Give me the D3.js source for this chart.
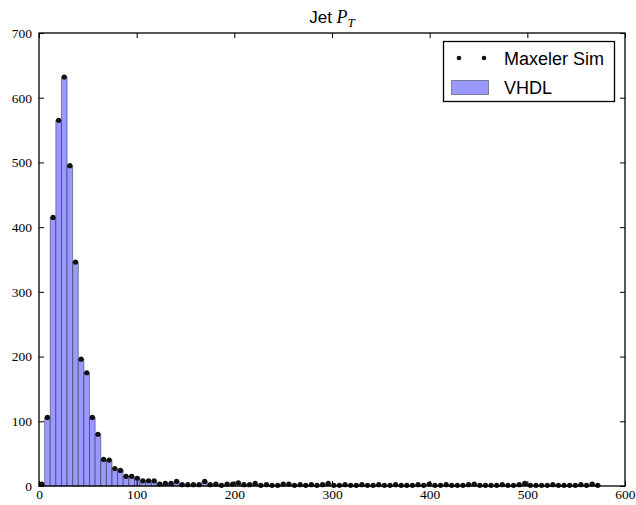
<!DOCTYPE html>
<html>
<head>
<meta charset="utf-8">
<script src="https://cdn.jsdelivr.net/npm/d3@7"></script>
<style>
  body { margin: 0; background: #fff; }
  svg { display: block; }
</style>
</head>
<body>
<svg id="canvas" width="636" height="505"></svg>
<script>
// histogram of jet pT, 100 bins starting at 0
const binStart = 0;
const binWidth = 5.75;

const vhdlCounts = [
  3, 106, 415, 565, 632, 495, 346, 196, 175, 106,
  80, 41, 40, 27, 24, 15, 15, 12, 8, 8,
  8, 3, 4, 4, 7, 2, 2, 2, 2, 7,
  2, 3, 1, 3, 3, 5, 2, 2, 4, 1,
  2, 1, 1, 3, 3, 1, 2, 1, 2, 1,
  2, 4, 1, 1, 2, 1, 1, 2, 1, 1,
  2, 1, 1, 2, 1, 1, 1, 2, 1, 3,
  1, 1, 2, 1, 1, 1, 2, 3, 1, 1,
  1, 1, 2, 1, 1, 2, 4, 1, 1, 1,
  1, 2, 1, 1, 1, 1, 2, 1, 3, 1
];
const maxelerCounts = vhdlCounts.slice();

const xTicks = [0, 100, 200, 300, 400, 500, 600];
const yTicks = [0, 100, 200, 300, 400, 500, 600, 700];

const margin = { left: 39, right: 636 - 625, top: 33, bottom: 505 - 486 };
const width = 636, height = 505;

const svg = d3.select("#canvas");

const x = d3.scaleLinear().domain([0, 600]).range([margin.left, width - margin.right]);
const y = d3.scaleLinear().domain([0, 700]).range([height - margin.bottom, margin.top]);

const bins = vhdlCounts.map((c, i) => ({
  x0: binStart + i * binWidth,
  x1: binStart + (i + 1) * binWidth,
  count: c,
  sim: maxelerCounts[i]
}));

// bars
svg.append("g")
  .selectAll("rect")
  .data(bins)
  .enter()
  .append("rect")
  .attr("x", (d) => x(d.x0))
  .attr("width", (d) => x(d.x1) - x(d.x0))
  .attr("y", (d) => y(d.count))
  .attr("height", (d) => y(0) - y(d.count))
  .attr("fill", "rgb(153,153,255)")
  .attr("stroke", "rgba(0,0,0,0.4)")
  .attr("stroke-width", 1);

// sim points
svg.append("g")
  .selectAll("circle")
  .data(bins)
  .enter()
  .append("circle")
  .attr("cx", (d) => x((d.x0 + d.x1) / 2))
  .attr("cy", (d) => y(d.sim))
  .attr("r", 2.6)
  .attr("fill", "#111");

// frame
svg.append("rect")
  .attr("x", x(0))
  .attr("y", y(700))
  .attr("width", x(600) - x(0))
  .attr("height", y(0) - y(700))
  .attr("fill", "none")
  .attr("stroke", "#000")
  .attr("stroke-width", 1.3);

// axes, ticks pointing inwards on every side
const tickFont = "'Liberation Serif', serif";
const axisBottom = d3.axisBottom(x).tickValues(xTicks).tickSizeInner(-5).tickSizeOuter(0).tickPadding(3);
const axisTop = d3.axisTop(x).tickValues(xTicks).tickSizeInner(-5).tickSizeOuter(0).tickFormat("");
const axisLeft = d3.axisLeft(y).tickValues(yTicks).tickSizeInner(-5).tickSizeOuter(0).tickPadding(7);
const axisRight = d3.axisRight(y).tickValues(yTicks).tickSizeInner(-5).tickSizeOuter(0).tickFormat("");

const gb = svg.append("g").attr("transform", `translate(0,${y(0)})`).call(axisBottom);
const gt = svg.append("g").attr("transform", `translate(0,${y(700)})`).call(axisTop);
const gl = svg.append("g").attr("transform", `translate(${x(0)},0)`).call(axisLeft);
const gr = svg.append("g").attr("transform", `translate(${x(600)},0)`).call(axisRight);

[gb, gt, gl, gr].forEach((g) => {
  g.select(".domain").remove();
  g.selectAll(".tick line").attr("stroke", "#000");
  g.selectAll("text")
    .attr("fill", "#000")
    .style("font-family", tickFont)
    .style("font-size", "13.5px");
});
gb.selectAll(".tick")
  .filter((d) => d === 600)
  .select("text")
  .attr("text-anchor", "end")
  .attr("dx", "10");

// title
const title = svg.append("text")
  .attr("x", 332)
  .attr("y", 23)
  .attr("text-anchor", "middle")
  .style("font-size", "17px")
  .style("font-family", "'Liberation Sans', sans-serif");
title.append("tspan").text("Jet ");
title.append("tspan")
  .style("font-family", "'Liberation Serif', serif")
  .style("font-style", "italic")
  .style("font-size", "18px")
  .text("P");
title.append("tspan")
  .attr("dy", 4)
  .style("font-family", "'Liberation Serif', serif")
  .style("font-style", "italic")
  .style("font-size", "13px")
  .text("T");

// legend
const legend = svg.append("g");
legend.append("rect")
  .attr("x", 443.5).attr("y", 41.5)
  .attr("width", 171).attr("height", 60)
  .attr("fill", "#fff").attr("stroke", "#000").attr("stroke-width", 1.3);
legend.selectAll("circle.leg")
  .data([459, 484])
  .enter()
  .append("circle")
  .attr("cx", (d) => d).attr("cy", 58).attr("r", 2.3).attr("fill", "#111");
legend.append("rect")
  .attr("x", 451.5).attr("y", 80.5)
  .attr("width", 37).attr("height", 14)
  .attr("fill", "rgb(153,153,255)")
  .attr("stroke", "rgba(0,0,0,0.4)");
legend.selectAll("text")
  .data([{ t: "Maxeler Sim", y: 65 }, { t: "VHDL", y: 94 }])
  .enter()
  .append("text")
  .attr("x", 504)
  .attr("y", (d) => d.y)
  .style("font-family", "'Liberation Sans', sans-serif")
  .style("font-size", "18px")
  .text((d) => d.t);
</script>
</body>
</html>
